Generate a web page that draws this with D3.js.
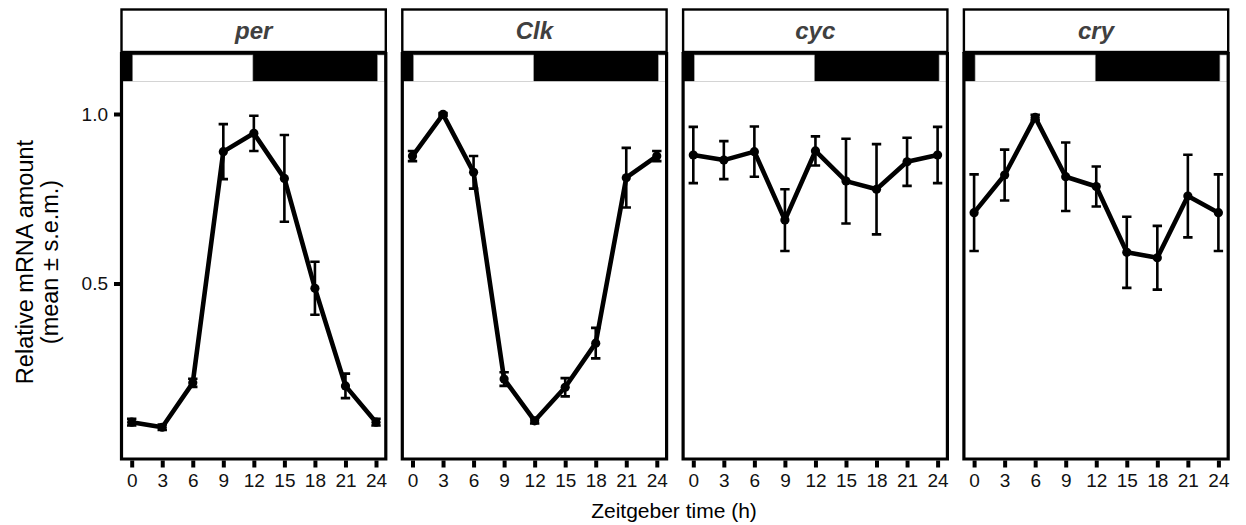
<!DOCTYPE html>
<html>
<head>
<meta charset="utf-8">
<script src="https://cdn.jsdelivr.net/npm/d3@7"></script>
<style>
  html, body { margin: 0; padding: 0; background: #fff; }
  svg { display: block; font-family: "Liberation Sans", Arial, sans-serif; }
</style>
</head>
<body>
<svg id="chart" width="1246" height="525"></svg>
<script>
// ---- data ----
const hours = [0, 3, 6, 9, 12, 15, 18, 21, 24];
const genes = ["per", "Clk", "cyc", "cry"];
const xTicks = [0, 3, 6, 9, 12, 15, 18, 21, 24];
const yTicks = [0.5, 1.0];
const yTickLabels = ["0.5", "1.0"];

const perMean = [0.091, 0.076, 0.207, 0.889, 0.943, 0.810, 0.486, 0.198, 0.091];
const perSem  = [0.010, 0.008, 0.012, 0.081, 0.052, 0.128, 0.078, 0.036, 0.010];
const clkMean = [0.876, 0.999, 0.828, 0.218, 0.095, 0.194, 0.324, 0.812, 0.876];
const clkSem  = [0.015, 0.004, 0.048, 0.020, 0.008, 0.027, 0.045, 0.088, 0.015];
const cycMean = [0.879, 0.864, 0.889, 0.687, 0.891, 0.802, 0.778, 0.859, 0.879];
const cycSem  = [0.083, 0.056, 0.074, 0.091, 0.043, 0.125, 0.133, 0.071, 0.083];
const cryMean = [0.709, 0.820, 0.990, 0.815, 0.786, 0.592, 0.576, 0.758, 0.709];
const crySem  = [0.113, 0.075, 0.008, 0.101, 0.059, 0.105, 0.094, 0.122, 0.113];

const lightStart = 0, lightEnd = 12, nextLight = 24; // LD cycle (ZT)

const xTitle = "Zeitgeber time (h)";
const yTitle = ["Relative mRNA amount", "(mean \u00b1 s.e.m.)"];

// ---- layout ----
const svg = d3.select("#chart");
const panelLeft0 = 121.5, panelStep = 280.8, panelW = 264.3;
const stripTop = 9.5, stripBottom = 52, ldBottom = 81.5, panelBottom = 459;

const means = [perMean, clkMean, cycMean, cryMean];
const sems = [perSem, clkSem, cycSem, crySem];

const y = d3.scaleLinear().domain([0, 1]).range([453, 114]);

genes.forEach((g, gi) => {
  const L = panelLeft0 + gi * panelStep, R = L + panelW;
  const x = d3.scaleLinear().domain([0, 24]).range([L + 10.2, L + 254.5]);
  const G = svg.append("g");

  // strip title box
  G.append("rect").attr("x", L).attr("y", stripTop).attr("width", panelW)
    .attr("height", stripBottom - stripTop).attr("fill", "#fff")
    .attr("stroke", "#000").attr("stroke-width", 2.4);
  G.append("text").attr("x", (L + R) / 2).attr("y", 38.5)
    .attr("text-anchor", "middle").attr("font-size", 24)
    .attr("font-weight", "bold").attr("font-style", "italic")
    .attr("fill", "#404040").text(g);

  // LD bar
  G.append("rect").attr("x", L).attr("y", stripBottom).attr("width", panelW)
    .attr("height", ldBottom - stripBottom).attr("fill", "#000");
  G.append("rect").attr("x", x(lightStart) + 1).attr("y", 55)
    .attr("width", x(lightEnd) - x(lightStart) - 2).attr("height", ldBottom - 55)
    .attr("fill", "#fff").attr("stroke", "#999").attr("stroke-width", 0.6);
  G.append("rect").attr("x", x(nextLight) + 1.5).attr("y", 55)
    .attr("width", R - 1 - x(nextLight) - 1.5).attr("height", ldBottom - 55)
    .attr("fill", "#fff").attr("stroke", "#999").attr("stroke-width", 0.6);

  // panel
  G.append("rect").attr("x", L).attr("y", ldBottom).attr("width", panelW)
    .attr("height", panelBottom - ldBottom).attr("fill", "#fff");
  G.append("path")
    .attr("d", `M${L},${stripBottom}V${panelBottom}H${R}V${stripBottom}`)
    .attr("fill", "none").attr("stroke", "#000").attr("stroke-width", 3.2);

  // x axis
  const xa = G.append("g").attr("transform", `translate(0,${panelBottom + 1.5})`)
    .call(d3.axisBottom(x).tickValues(xTicks).tickSize(7).tickSizeOuter(0).tickPadding(6));
  xa.select(".domain").remove();
  xa.selectAll(".tick line").attr("stroke", "#000").attr("stroke-width", 4);
  xa.selectAll(".tick text").attr("font-size", 19).attr("fill", "#111")
    .attr("font-family", "Liberation Sans, Arial, sans-serif");

  // y axis on first panel
  if (gi === 0) {
    const ya = G.append("g").attr("transform", `translate(${L - 1.5},0)`)
      .call(d3.axisLeft(y).tickValues(yTicks).tickFormat((d, i) => yTickLabels[i])
        .tickSize(6).tickSizeOuter(0).tickPadding(6));
    ya.select(".domain").remove();
    ya.selectAll(".tick line").attr("stroke", "#000").attr("stroke-width", 4);
    ya.selectAll(".tick text").attr("font-size", 19).attr("fill", "#111")
      .attr("font-family", "Liberation Sans, Arial, sans-serif");
  }

  const data = hours.map((h, i) => ({ h, m: means[gi][i], s: sems[gi][i] }));

  // error bars
  const eb = G.append("g").attr("stroke", "#000").attr("stroke-width", 2.6).attr("fill", "none");
  data.forEach(d => {
    const cx = x(d.h), t = y(d.m + d.s), b = y(d.m - d.s), hw = 4.7;
    eb.append("path").attr("d", `M${cx},${t}V${b}M${cx - hw},${t}H${cx + hw}M${cx - hw},${b}H${cx + hw}`);
  });

  // line
  G.append("path").datum(data)
    .attr("d", d3.line().x(d => x(d.h)).y(d => y(d.m)))
    .attr("fill", "none").attr("stroke", "#000").attr("stroke-width", 4.6)
    .attr("stroke-linejoin", "round");

  // points
  G.selectAll("circle.pt").data(data).join("circle").attr("class", "pt")
    .attr("cx", d => x(d.h)).attr("cy", d => y(d.m)).attr("r", 4.6).attr("fill", "#000");
});

// axis titles
svg.append("text").attr("x", 674).attr("y", 518).attr("text-anchor", "middle")
  .attr("font-size", 21).attr("fill", "#000").text(xTitle);
const yt = svg.append("text").attr("transform", "translate(0,262) rotate(-90)")
  .attr("text-anchor", "middle").attr("font-size", 23.5).attr("fill", "#000");
yt.append("tspan").attr("x", 0).attr("y", 33).text(yTitle[0]);
yt.append("tspan").attr("x", 0).attr("y", 58).text(yTitle[1]);
</script>
</body>
</html>
